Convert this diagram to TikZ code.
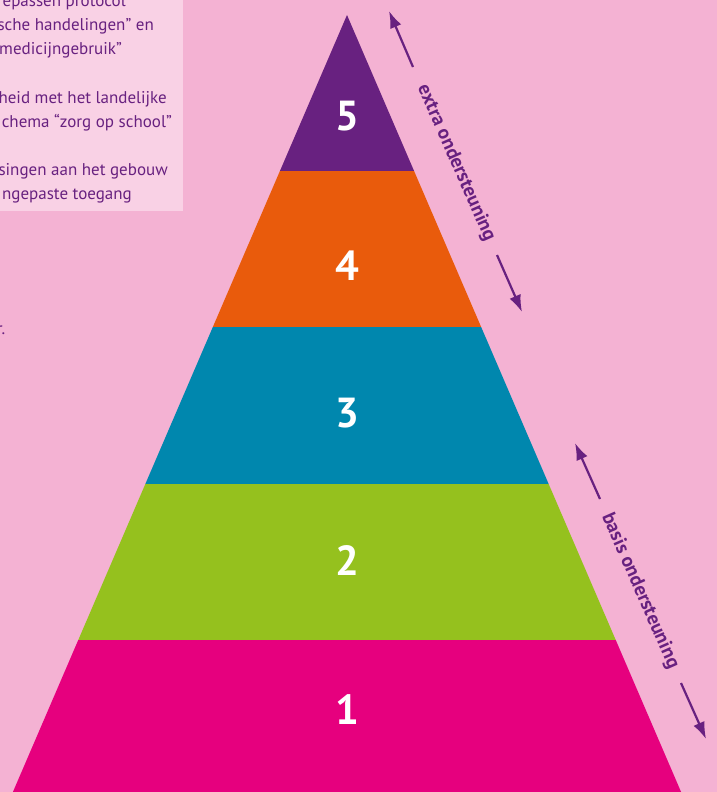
\documentclass[tikz,border=0pt]{standalone}
\usepackage{fontspec}
\setmainfont{PT Sans}
\usetikzlibrary{arrows.meta}

\begin{document}
\begin{tikzpicture}[x=1pt, y=-1pt,
    levelnum/.style={text=white, font=\bfseries\fontsize{42}{42}\selectfont, inner sep=0pt},
    boxtext/.style={text=txtpurple, font=\fontsize{17}{17}\selectfont, inner sep=0pt, anchor=base east},
    supportarrow/.style={-{Latex[length=17pt,width=12pt]}, line width=2.2pt, draw=txtpurple},
    supportlabel/.style={text=txtpurple, font=\bfseries\fontsize{19.5}{19.5}\selectfont, rotate=-66.2, inner sep=0pt}]

    \xdefinecolor{bgpink}{RGB}{244,178,211}
    \xdefinecolor{boxpink}{RGB}{249,209,229}
    \xdefinecolor{txtpurple}{RGB}{104,33,128}
    \xdefinecolor{lvlfive}{RGB}{104,33,128}
    \xdefinecolor{lvlfour}{RGB}{233,91,12}
    \xdefinecolor{lvlthree}{RGB}{0,135,174}
    \xdefinecolor{lvltwo}{RGB}{149,193,30}
    \xdefinecolor{lvlone}{RGB}{230,0,126}

    \clip (0,0) rectangle (717,792);
    \fill[bgpink] (0,0) rectangle (717,792);

    % Light box with the cut-off text on the left
    \fill[boxpink] (0,0) rectangle (183,211);
    \foreach \ybase/\xend/\txt [count=\i] in {7/126/{epassen protocol}, 31/154/{sche handelingen” en}, 55/122/{medicijngebruik”},
            103/167/{heid met het landelijke}, 127/172/{chema “zorg op school”},
            175/168/{singen aan het gebouw}, 199/132/{ngepaste toegang}} {
            \node[boxtext] (boxline\i) at (\xend,\ybase) {\txt};
        }
    \node[boxtext] (stray) at (5.5,334) {r.};

    % Pyramid levels: top, bottom, colour and height of the number
    \foreach \ytop/\ybot/\fillc/\ylbl [count=\i] in {15/171/lvlfive/116, 171/327/lvlfour/266,
            327/484/lvlthree/413, 484/640/lvltwo/560, 640/800/lvlone/710} {
            \pgfmathtruncatemacro\num{6-\i}
            \fill[\fillc] ({347-0.43*(\ytop-15)},\ytop) -- ({347+0.43*(\ytop-15)},\ytop)
                -- ({347+0.43*(\ybot-15)},\ybot) -- ({347-0.43*(\ybot-15)},\ybot) -- cycle;
            \node[levelnum] (level\num) at (347,\ylbl) {\num};
        }

    % Arrows along the right side
    \node[supportlabel] (extra) at (456,163) {extra ondersteuning};
    \coordinate (extra-a) at (413,67);
    \coordinate (extra-tipa) at (389,11);
    \coordinate (extra-b) at (497,255);
    \coordinate (extra-tipb) at (522,312);
    \draw[supportarrow] (extra-a) -- (extra-tipa);
    \draw[supportarrow] (extra-b) -- (extra-tipb);

    \node[supportlabel] (basis) at (640,591) {basis ondersteuning};
    \coordinate (basis-a) at (600,499);
    \coordinate (basis-tipa) at (575,443);
    \coordinate (basis-b) at (681,683);
    \coordinate (basis-tipb) at (706,739);
    \draw[supportarrow] (basis-a) -- (basis-tipa);
    \draw[supportarrow] (basis-b) -- (basis-tipb);

\end{tikzpicture}
\end{document}
